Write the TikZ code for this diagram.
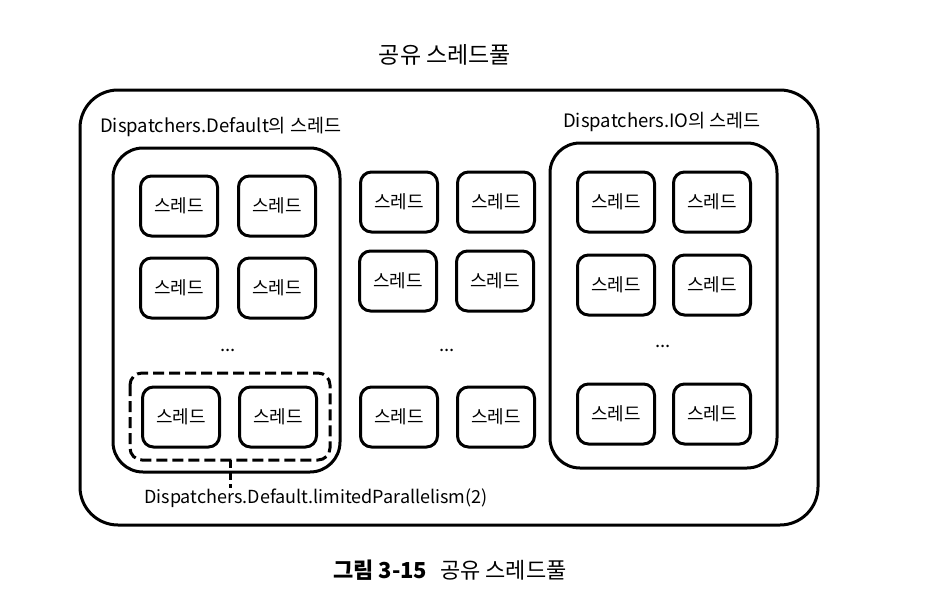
\documentclass[tikz,border=0pt]{standalone}
\usepackage{fontspec}
\setmainfont{Noto Sans CJK KR}
\begin{document}
\begin{tikzpicture}[x=1pt,y=-1pt,
  thr/.style={draw,line width=3pt,rounded corners=11pt,minimum width=77pt,minimum height=60pt,font=\fontsize{18}{20}\selectfont,inner sep=0pt},
  grp/.style={draw,line width=3pt,rounded corners=30pt},
  lbl/.style={font=\fontsize{18.5}{21}\selectfont,inner sep=0pt}]
\useasboundingbox (0,0) rectangle (932,608);
% outer
\draw[line width=3pt,rounded corners=38pt] (80,90) rectangle (818,525);
\node[font=\fontsize{23}{26}\selectfont] (title) at (445,55) {공유 스레드풀};
% left group
\node[lbl,anchor=west] (ldef) at (100,127) {Dispatchers.Default의 스레드};
\draw[grp] (113,148) rectangle (340,472);
\node[thr] (a1) at (179,206) {스레드};
\node[thr] (a2) at (277,206) {스레드};
\node[thr] (a3) at (179,288) {스레드};
\node[thr] (a4) at (277,288) {스레드};
\node[lbl] (ad) at (228,350) {...};
\node[thr] (a5) at (181,417) {스레드};
\node[thr] (a6) at (278,417) {스레드};
\draw[line width=3pt,dash pattern=on 11pt off 5pt,rounded corners=12pt] (130,373) rectangle (330,460);
\coordinate (dtop) at (230,460);
\node[lbl,font=\fontsize{18}{20}\selectfont] (lp) at (316,498) {Dispatchers.Default.limitedParallelism(2)};
\draw[line width=3pt,dash pattern=on 8pt off 4pt] (dtop) -- (230,488);
% middle
\node[thr] (b1) at (399,202) {스레드};
\node[thr] (b2) at (496,202) {스레드};
\node[thr] (b3) at (398,281) {스레드};
\node[thr] (b4) at (495,281) {스레드};
\node[lbl] (bd) at (447,350) {...};
\node[thr] (b5) at (399,417) {스레드};
\node[thr] (b6) at (496,417) {스레드};
% right group
\node[lbl,anchor=west] (lio) at (563,122) {Dispatchers.IO의 스레드};
\draw[grp] (550,143) rectangle (777,468);
\node[thr] (c1) at (616,202) {스레드};
\node[thr] (c2) at (712,202) {스레드};
\node[thr] (c3) at (616,285) {스레드};
\node[thr] (c4) at (712,285) {스레드};
\node[lbl] (cd) at (663,346) {...};
\node[thr] (c5) at (616,414) {스레드};
\node[thr] (c6) at (712,414) {스레드};
% caption
\node[font=\fontsize{22}{25}\selectfont\bfseries,anchor=west,inner sep=0pt] (cap1) at (333,570) {그림 3-15};
\node[font=\fontsize{22}{25}\selectfont,anchor=west,inner sep=0pt] (cap2) at (440,570) {공유 스레드풀};
\end{tikzpicture}
\end{document}
